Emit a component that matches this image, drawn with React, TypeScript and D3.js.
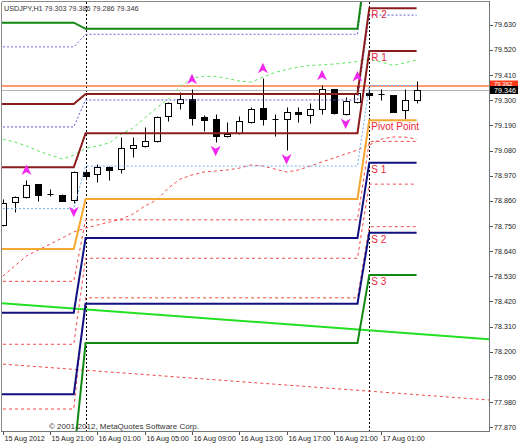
import React from "react";
import * as d3 from "d3";

const W = 518;
const H = 444;
const PL = 2, PT = 2, PR = 489, PB = 431;

const titleText = "USDJPY,H1";
const lastOHLC = ["79.303", "79.386", "79.286", "79.346"];
const copyrightText = "\u00A9 2001-2012, MetaQuotes Software Corp.";

// hourly bars: 15 Aug 17:00 ... 17 Aug 04:00
const openP = [78.753, 78.855, 78.877, 78.932, 78.890, 78.887, 78.862, 78.985, 78.976, 79.009, 79.000, 79.090, 79.101, 79.121, 79.231, 79.286, 79.304, 79.226, 79.216, 79.142, 79.155, 79.205, 79.264, 79.218, 79.218, 79.247, 79.235, 79.260, 79.348, 79.240, 79.291, 79.330, 79.327, 79.321, 79.257, 79.303];
const highP = [78.868, 78.880, 78.951, 78.933, 78.913, 78.890, 78.990, 79.000, 79.020, 79.012, 79.138, 79.138, 79.181, 79.231, 79.292, 79.337, 79.348, 79.235, 79.238, 79.205, 79.232, 79.271, 79.396, 79.240, 79.269, 79.271, 79.289, 79.365, 79.350, 79.314, 79.360, 79.348, 79.348, 79.322, 79.348, 79.386];
const lowP = [78.748, 78.812, 78.874, 78.860, 78.881, 78.858, 78.852, 78.955, 78.941, 78.950, 78.983, 79.050, 79.097, 79.119, 79.209, 79.263, 79.190, 79.167, 79.118, 79.139, 79.152, 79.199, 79.193, 79.143, 79.082, 79.205, 79.201, 79.240, 79.240, 79.237, 79.286, 79.310, 79.300, 79.247, 79.216, 79.286];
const closeP = [78.849, 78.875, 78.928, 78.885, 78.889, 78.860, 78.987, 78.970, 79.009, 78.995, 79.090, 79.104, 79.121, 79.228, 79.286, 79.304, 79.222, 79.212, 79.145, 79.152, 79.208, 79.263, 79.216, 79.216, 79.247, 79.238, 79.260, 79.348, 79.243, 79.295, 79.330, 79.323, 79.326, 79.250, 79.299, 79.346];

// envelope bands (per bar)
const upperBand = [79.130, 79.117, 79.100, 79.078, 79.060, 79.043, 79.060, 79.089, 79.100, 79.113, 79.152, 79.178, 79.222, 79.266, 79.305, 79.360, 79.397, 79.404, 79.404, 79.395, 79.384, 79.379, 79.401, 79.421, 79.434, 79.445, 79.452, 79.454, 79.458, 79.463, 79.469, 79.478, 79.467, 79.452, 79.463, 79.476];
const lowerBand = [78.531, 78.575, 78.619, 78.645, 78.671, 78.697, 78.724, 78.741, 78.754, 78.767, 78.780, 78.802, 78.837, 78.863, 78.916, 78.955, 78.973, 78.986, 78.990, 78.995, 79.003, 79.017, 79.012, 78.999, 78.986, 78.995, 79.012, 79.030, 79.047, 79.065, 79.082, 79.104, 79.130, 79.139, 79.139, 79.130];

// fractals (bar index in the arrays above)
const fractalUp = [2, 16, 22, 27, 30];
const fractalDown = [6, 18, 24, 29];

// daily pivot levels: 15 Aug, 16 Aug, 17 Aug
const levelR3 = [79.639, 79.612, 80.003];
const levelR2 = [79.283, 79.327, 79.702];
const levelR1 = [79.007, 79.156, 79.515];
const levelPP = [78.649, 78.868, 79.212];
const levelS1 = [78.371, 78.697, 79.027];
const levelS2 = [78.014, 78.410, 78.721];
const levelS3 = [77.735, 78.238, 78.536];
const levelBlueHi = [79.533, 79.588, 79.975];
const levelBlueLo = [79.183, 79.301, 79.672];
const levelMid = [78.826, 79.012, 79.364];
const levelRed1 = [78.508, 78.777, 79.120];
const levelRed2 = [78.233, 78.609, 78.933];
const levelRed3 = [77.950, 78.436, 78.747];

// trend lines (two anchor points each)
const greenTrendTimes = [Date.UTC(2012, 7, 15, 16), Date.UTC(2012, 7, 17, 11)];
const greenTrendVals = [78.416, 78.252];
const redTrendTimes = [Date.UTC(2012, 7, 15, 16), Date.UTC(2012, 7, 17, 11)];
const redTrendVals = [78.150, 77.986];

const askPrice = 79.362;
const bidPrice = 79.346;

const yTicks = [79.63, 79.52, 79.41, 79.30, 79.19, 79.08, 78.97, 78.86, 78.75, 78.64, 78.53, 78.42, 78.31, 78.20, 78.09, 77.98, 77.87];
const xTickTimes = [
  Date.UTC(2012, 7, 15, 17), Date.UTC(2012, 7, 15, 21), Date.UTC(2012, 7, 16, 1),
  Date.UTC(2012, 7, 16, 5), Date.UTC(2012, 7, 16, 9), Date.UTC(2012, 7, 16, 13),
  Date.UTC(2012, 7, 16, 17), Date.UTC(2012, 7, 16, 21), Date.UTC(2012, 7, 17, 1),
];
const xTickLabels = ["15 Aug 2012", "15 Aug 21:00", "16 Aug 01:00", "16 Aug 05:00", "16 Aug 09:00", "16 Aug 13:00", "16 Aug 17:00", "16 Aug 21:00", "17 Aug 01:00"];
const separatorTimes = [Date.UTC(2012, 7, 16, 0), Date.UTC(2012, 7, 17, 0)];

const levelStyles = [
  { vals: levelBlueHi, stroke: "#6B6BE0", w: 1, dash: "2,2" },
  { vals: levelBlueLo, stroke: "#5A5AD8", w: 1, dash: "2,2" },
  { vals: levelMid, stroke: "#6FB4F0", w: 1, dash: "2,2" },
  { vals: levelRed1, stroke: "#F04848", w: 1, dash: "3,3" },
  { vals: levelRed2, stroke: "#F04848", w: 1, dash: "3,3" },
  { vals: levelRed3, stroke: "#F04848", w: 1, dash: "3,3" },
  { vals: levelR3, stroke: "#118811", w: 2, dash: null },
  { vals: levelR2, stroke: "#8B1C1C", w: 2, dash: null },
  { vals: levelR1, stroke: "#8B1C1C", w: 2, dash: null },
  { vals: levelPP, stroke: "#F5A830", w: 2, dash: null },
  { vals: levelS1, stroke: "#101080", w: 2, dash: null },
  { vals: levelS2, stroke: "#101080", w: 2, dash: null },
  { vals: levelS3, stroke: "#118811", w: 2, dash: null },
];
const levelLabels = [
  { vals: levelR2, text: "R 2" },
  { vals: levelR1, text: "R 1" },
  { vals: levelPP, text: "Pivot Point" },
  { vals: levelS1, text: "S 1" },
  { vals: levelS2, text: "S 2" },
  { vals: levelS3, text: "S 3" },
];

const FONT = "'Liberation Sans', Arial, sans-serif";

export default function App() {
  const x = d3.scaleUtc()
    .domain([new Date(Date.UTC(2012, 7, 16, 0)), new Date(Date.UTC(2012, 7, 17, 0))])
    .range([85.6, 369.3]);
  const y = d3.scaleLinear().domain([77.87, 79.63]).range([427.3, 24.7]);

  const barTimes = d3.utcHour.range(new Date(Date.UTC(2012, 7, 15, 17)), new Date(Date.UTC(2012, 7, 17, 5)));
  const lineTimes = d3.utcHour.range(new Date(Date.UTC(2012, 7, 15, 16)), new Date(Date.UTC(2012, 7, 17, 5)));
  const day0 = new Date(Date.UTC(2012, 7, 15));
  const dayOf = (t: Date) => d3.utcDay.count(day0, t);

  const line = d3.line<[number, number]>().x((d) => d[0]).y((d) => d[1]);

  const levelPath = (vals: number[]) =>
    line(lineTimes.map((t) => [x(t), y(vals[dayOf(t)])] as [number, number])) || "";
  const bandPath = (vals: number[]) =>
    line(barTimes.map((t, i) => [x(t), y(vals[i])] as [number, number])) || "";
  const trendPath = (ts: number[], vs: number[]) =>
    line(ts.map((t, i) => [x(new Date(t)), y(vs[i])] as [number, number])) || "";

  const lastDayStart = new Date(Date.UTC(2012, 7, 17, 0));
  const fmt = d3.format(".3f");

  const upArrow = "M0,-5.5 L5,5 L0,2 L-5,5 Z";
  const downArrow = "M0,5.5 L5,-5 L0,-2 L-5,-5 Z";

  const yAsk = y(askPrice);
  const yBid = y(bidPrice);

  return (
    <svg width={W} height={H} style={{ position: "fixed", left: 0, top: 0, background: "#fff" }} fontFamily={FONT}>
      <defs>
        <clipPath id="plot">
          <rect x={PL} y={PT} width={PR - PL} height={PB - PT} />
        </clipPath>
      </defs>
      <rect x={0} y={0} width={W} height={H} fill="#fff" />

      <g clipPath="url(#plot)">
        {/* period separators */}
        {separatorTimes.map((t, i) => (
          <line key={i} x1={Math.round(x(new Date(t))) + 0.5} x2={Math.round(x(new Date(t))) + 0.5} y1={PT} y2={PB} stroke="#000" strokeDasharray="2,2" />
        ))}
        {/* ask / bid lines */}
        <line x1={PL} x2={PR} y1={yAsk} y2={yAsk} stroke="#FF7A45" strokeWidth={1.3} />
        <line x1={PL} x2={PR} y1={Math.round(yBid) + 0.5} y2={Math.round(yBid) + 0.5} stroke="#B4B4B4" />

        {/* candles */}
        {barTimes.map((t, i) => {
          const cx = Math.round(x(t)) + 0.5;
          const o = openP[i], c = closeP[i];
          const yo = y(o), yc = y(c);
          const top = Math.round(Math.min(yo, yc)) + 0.5;
          const bot = Math.round(Math.max(yo, yc)) + 0.5;
          const bull = c >= o;
          return (
            <g key={i}>
              <line x1={cx} x2={cx} y1={Math.round(y(highP[i])) + 0.5} y2={Math.round(y(lowP[i])) + 0.5} stroke="#000" />
              {bot - top < 1 ? (
                <line x1={cx - 3} x2={cx + 3} y1={top} y2={top} stroke="#000" />
              ) : (
                <rect x={cx - 3} y={top} width={6} height={bot - top} fill={bull ? "#fff" : "#000"} stroke="#000" />
              )}
            </g>
          );
        })}

        {/* envelope bands */}
        <path d={bandPath(upperBand)} fill="none" stroke="#5CE65C" strokeDasharray="3,3" />
        <path d={bandPath(lowerBand)} fill="none" stroke="#F24A4A" strokeDasharray="3,3" />

        {/* trend lines */}
        <path d={trendPath(greenTrendTimes, greenTrendVals)} fill="none" stroke="#22E022" strokeWidth={2} />
        <path d={trendPath(redTrendTimes, redTrendVals)} fill="none" stroke="#F04848" strokeDasharray="3,3" />

        {/* pivot levels */}
        {levelStyles.map((s, i) => (
          <path key={i} d={levelPath(s.vals)} fill="none" stroke={s.stroke} strokeWidth={s.w} strokeDasharray={s.dash || undefined} />
        ))}

        {levelLabels.map((l, i) => (
          <text key={i} x={x(lastDayStart) + 2} y={y(l.vals[2]) + 10} fontSize={10} fill="#E8283C">{l.text}</text>
        ))}

        {/* fractals */}
        {fractalUp.map((bi) => (
          <path key={"u" + bi} d={upArrow} transform={`translate(${x(barTimes[bi])},${y(highP[bi]) - 10})`} fill="#F028F0" />
        ))}
        {fractalDown.map((bi) => (
          <path key={"d" + bi} d={downArrow} transform={`translate(${x(barTimes[bi])},${y(lowP[bi]) + 9})`} fill="#F028F0" />
        ))}
      </g>

      {/* frame */}
      <line x1={PL - 0.5} x2={PL - 0.5} y1={PT} y2={PB} stroke="#8A8A8A" />
      <line x1={PL} x2={PR} y1={PT - 0.5} y2={PT - 0.5} stroke="#8A8A8A" />
      <line x1={PR + 0.5} x2={PR + 0.5} y1={PT - 1} y2={PB + 1} stroke="#6E7878" />
      <line x1={PL - 1} x2={PR + 1} y1={PB + 0.5} y2={PB + 0.5} stroke="#6E7878" />

      {/* y axis */}
      {yTicks.map((v, i) => (
        <g key={i}>
          <line x1={PR + 1} x2={PR + 4} y1={Math.round(y(v)) + 0.5} y2={Math.round(y(v)) + 0.5} stroke="#555" />
          <text x={PR + 5} y={y(v) + 2.6} fontSize={7.2} fill="#222">{fmt(v)}</text>
        </g>
      ))}

      {/* price boxes */}
      <rect x={PR + 1} y={yAsk - 5.5} width={W - PR - 1} height={5.5} fill="#FF3A1A" />
      <text x={PR + 5} y={yAsk - 0.3} fontSize={6} fill="#fff">{fmt(askPrice)}</text>
      <rect x={PR + 1} y={yAsk} width={W - PR - 1} height={8} fill="#000" />
      <text x={PR + 5} y={yAsk + 6.8} fontSize={7.2} fill="#fff">{fmt(bidPrice)}</text>

      {/* x axis */}
      {xTickTimes.map((t, i) => {
        const tx = Math.round(x(new Date(t))) + 0.5;
        return (
          <g key={i}>
            <line x1={tx} x2={tx} y1={PB + 1} y2={PB + 4} stroke="#555" />
            <text x={tx + 1} y={440.5} fontSize={7.2} fill="#222">{xTickLabels[i]}</text>
          </g>
        );
      })}

      {/* header and copyright */}
      <text x={4} y={10.5} fontSize={7.2} fill="#333">
        {titleText + "  " + lastOHLC.join(" ")}
      </text>
      <text x={49} y={429} fontSize={8} fill="#333">{copyrightText}</text>
    </svg>
  );
}
